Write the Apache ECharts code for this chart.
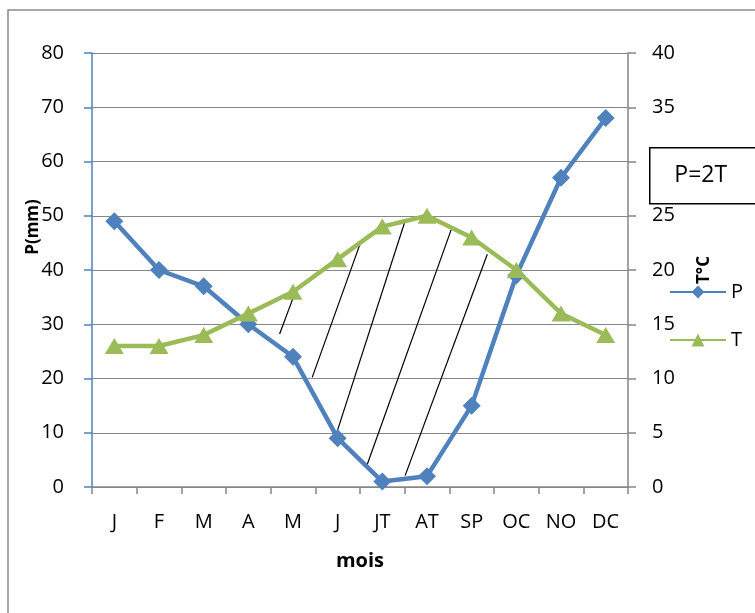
<!DOCTYPE html>
<html>
<head>
<meta charset="utf-8">
<script src="https://cdn.jsdelivr.net/npm/echarts@6/dist/echarts.min.js"></script>
<style>
  html, body { margin: 0; padding: 0; background: #fff; }
  #chart { width: 755px; height: 613px; }
</style>
</head>
<body>
<div id="chart"></div>
<script>
// Monthly data for the ombrothermic diagram
const months = ['J', 'F', 'M', 'A', 'M', 'J', 'JT', 'AT', 'SP', 'OC', 'NO', 'DC'];
const precip = [49, 40, 37, 30, 24, 9, 1, 2, 15, 39, 57, 68];        // P (mm)
const temperature = [13, 13, 14, 16, 18, 21, 24, 25, 23, 20, 16, 14]; // T (°C)

// Hatching of the dry season: segments [monthIndex, P] -> [monthIndex, P]
const hatchStart = [[3.70, 28.2], [4.43, 20.2], [4.92, 8.5], [5.66, 4.1], [6.51, 2.1]];
const hatchEnd   = [[4.09, 36.8], [5.51, 45.0], [6.52, 49.3], [7.54, 47.4], [8.35, 42.9]];

const blue = '#4F81BD';
const green = '#9BBB59';
const gridGray = '#868686';
const font = '"Open Sans", Lato, sans-serif';

const hatchData = hatchStart.map((s, i) => [s[0], s[1], hatchEnd[i][0], hatchEnd[i][1]]);

const chart = echarts.init(document.getElementById('chart'));
chart.setOption({
  animation: false,
  textStyle: { fontFamily: font },
  grid: { left: 92, right: 127, top: 53, bottom: 126 },
  legend: {
    orient: 'vertical',
    left: 664,
    top: 277,
    itemWidth: 56,
    itemHeight: 16,
    itemGap: 28,
    textStyle: { fontSize: 20, color: '#000', fontFamily: font },
    data: ['P', 'T']
  },
  xAxis: [
    {
      type: 'category',
      data: months,
      name: 'mois',
      nameLocation: 'middle',
      nameGap: 64,
      nameTextStyle: { fontSize: 20, fontWeight: 'bold', color: '#000' },
      axisLine: { show: true, onZero: false, lineStyle: { color: gridGray, width: 1.5 } },
      axisTick: { show: true, alignWithLabel: false, length: 7, lineStyle: { color: gridGray, width: 1.5 } },
      axisLabel: { fontSize: 20, color: '#000', margin: 25 }
    },
    {
      type: 'value',
      min: -0.5,
      max: 11.5,
      show: false
    }
  ],
  yAxis: [
    {
      type: 'value',
      min: 0,
      max: 80,
      interval: 10,
      name: 'P(mm)',
      nameLocation: 'middle',
      nameRotate: 90,
      nameGap: 50,
      nameMoveOverlap: false,
      nameTextStyle: { fontSize: 17, fontWeight: 'bold', color: '#000', padding: [0, 0, 0, 86] },
      axisLine: { show: true, onZero: false, lineStyle: { color: blue, width: 1.5 } },
      axisTick: { show: true, length: 8, lineStyle: { color: blue, width: 1.5 } },
      axisLabel: { fontSize: 20, color: '#000', margin: 28 },
      splitLine: { show: true, lineStyle: { color: gridGray, width: 1.2 } }
    },
    {
      type: 'value',
      min: 0,
      max: 40,
      interval: 5,
      position: 'right',
      name: 'T°C',
      nameLocation: 'middle',
      nameRotate: 90,
      nameGap: 68,
      nameMoveOverlap: false,
      nameTextStyle: { fontSize: 17, fontWeight: 'bold', color: '#000' },
      axisLine: { show: true, onZero: false, lineStyle: { color: gridGray, width: 1.5 } },
      axisTick: { show: true, length: 8, lineStyle: { color: gridGray, width: 1.5 } },
      axisLabel: { fontSize: 20, color: '#000', margin: 24 },
      splitLine: { show: false }
    }
  ],
  graphic: [
    {
      type: 'rect',
      z: -10,
      shape: { x: 8, y: 10, width: 800, height: 700 },
      style: { fill: 'none', stroke: '#8a8a8a', lineWidth: 1.5 }
    },
    {
      type: 'group',
      left: 649,
      top: 147,
      z: 100,
      children: [
        {
          type: 'rect',
          z: 100,
          shape: { x: 0, y: 0, width: 120, height: 56 },
          style: { fill: '#fff', stroke: '#000', lineWidth: 1.5 }
        },
        {
          type: 'text',
          z: 101,
          x: 51,
          y: 28,
          style: {
            text: 'P=2T',
            font: '23px ' + font,
            fill: '#000',
            align: 'center',
            verticalAlign: 'middle'
          }
        }
      ]
    }
  ],
  series: [
    {
      name: 'hatch',
      type: 'custom',
      xAxisIndex: 1,
      yAxisIndex: 0,
      silent: true,
      z: 1,
      data: hatchData,
      renderItem: function (params, api) {
        const p1 = api.coord([api.value(0), api.value(1)]);
        const p2 = api.coord([api.value(2), api.value(3)]);
        return {
          type: 'line',
          shape: { x1: p1[0], y1: p1[1], x2: p2[0], y2: p2[1] },
          style: { stroke: '#000', lineWidth: 1.2 }
        };
      }
    },
    {
      name: 'P',
      type: 'line',
      yAxisIndex: 0,
      data: precip,
      z: 3,
      symbol: 'diamond',
      symbolSize: [18, 18],
      showAllSymbol: true,
      lineStyle: { color: blue, width: 4.5 },
      itemStyle: { color: blue }
    },
    {
      name: 'T',
      type: 'line',
      yAxisIndex: 1,
      data: temperature,
      z: 3,
      symbol: 'triangle',
      symbolSize: [19, 16],
      showAllSymbol: true,
      lineStyle: { color: green, width: 4.5 },
      itemStyle: { color: green }
    }
  ]
});
</script>
</body>
</html>
